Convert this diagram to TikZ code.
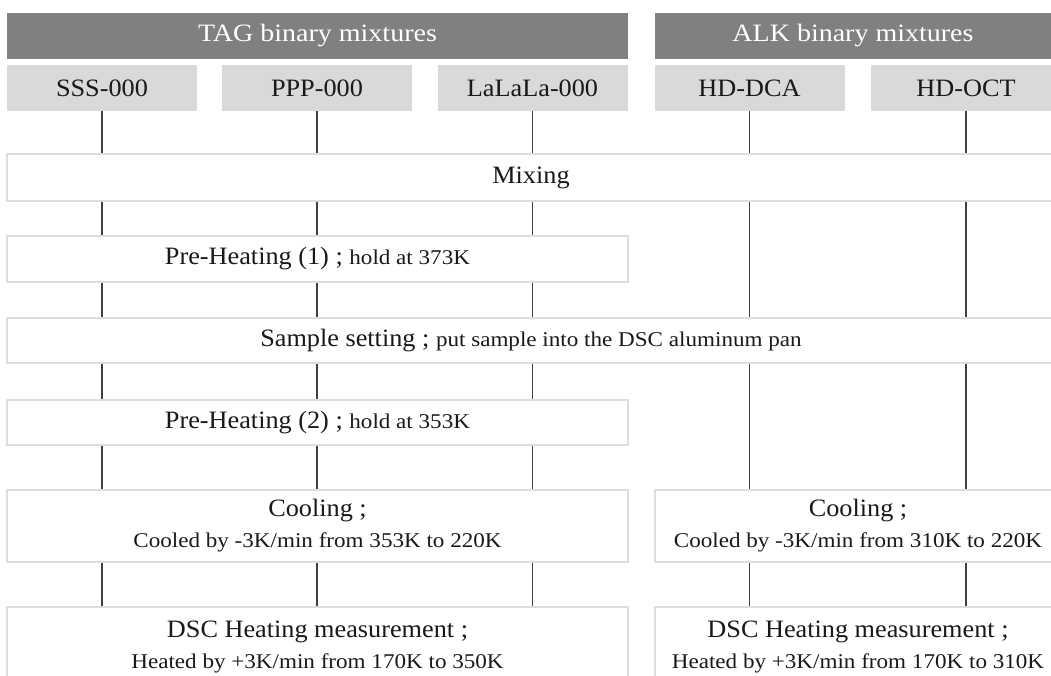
\documentclass[tikz,border=0pt]{standalone}
\usepackage{fontspec}
\setmainfont{Liberation Serif}
\newfontfamily\bigfam[FakeStretch=1.05]{Liberation Serif}
\newfontfamily\smfam[FakeStretch=1.1]{Liberation Serif}
\newfontfamily\headfam[FakeStretch=1.12]{Liberation Serif}
\newcommand{\bigtxt}{\bigfam\fontsize{25}{28}\selectfont}
\newcommand{\sm}{\smfam\fontsize{21}{24}\selectfont}
\newcommand{\headtxt}{\headfam\fontsize{25}{28}\selectfont}
\begin{document}
\begin{tikzpicture}[x=1pt,y=-1pt,
  dark/.style={fill=black!50,text=white,inner sep=0pt,minimum height=46pt,font=\headtxt},
  light/.style={fill=black!15,text=black!90,inner sep=0pt,minimum width=190pt,minimum height=46pt,font=\bigtxt},
  box/.style={fill=white,draw=black!13,line width=1.5pt,inner sep=0pt,align=center,text=black!90,font=\bigtxt},
  conn/.style={draw=black!75,line width=1.3pt}]
\useasboundingbox (0,0) rectangle (1051,675);
\clip (0,0) rectangle (1051,675);
\node[dark,minimum width=621pt] (htag) at (317.5,36) {TAG binary mixtures};
\node[dark,minimum width=396pt] (halk) at (853,36) {ALK binary mixtures};
\node[light] (sss) at (102,88) {SSS-000};
\node[light] (ppp) at (317,88) {PPP-000};
\node[light] (lal) at (532.5,88) {LaLaLa-000};
\node[light] (dca) at (749.5,88) {HD-DCA};
\node[light] (oct) at (966,88) {HD-OCT};
\node[box,minimum width=1048pt,minimum height=47pt] (mix) at (531,177.5) {Mixing};
\node[box,minimum width=621pt,minimum height=46pt] (pre1) at (317.5,259) {Pre-Heating (1) ; {\sm hold at 373K}};
\node[box,minimum width=1048pt,minimum height=45pt] (samp) at (531,340.5) {Sample setting ; {\sm put sample into the DSC aluminum pan}};
\node[box,minimum width=621pt,minimum height=45pt] (pre2) at (317.5,422.5) {Pre-Heating (2) ; {\sm hold at 353K}};
\node[box,minimum width=621pt,minimum height=72pt] (coolT) at (317.5,526) {Cooling ;\\[3pt]{\sm Cooled by -3K/min from 353K to 220K}};
\node[box,minimum width=406pt,minimum height=72pt] (coolA) at (858,526) {Cooling ;\\[3pt]{\sm Cooled by -3K/min from 310K to 220K}};
\node[box,minimum width=621pt,minimum height=80pt] (dscT) at (317.5,647) {DSC Heating measurement ;\\[3pt]{\sm Heated by +3K/min from 170K to 350K}};
\node[box,minimum width=406pt,minimum height=80pt] (dscA) at (858,647) {DSC Heating measurement ;\\[3pt]{\sm Heated by +3K/min from 170K to 310K}};
\foreach \n in {sss,ppp,lal}{
  \draw[conn] (\n.south) -- (\n.south |- mix.north);
  \draw[conn] (\n.south |- mix.south) -- (\n.south |- pre1.north);
  \draw[conn] (\n.south |- pre1.south) -- (\n.south |- samp.north);
  \draw[conn] (\n.south |- samp.south) -- (\n.south |- pre2.north);
  \draw[conn] (\n.south |- pre2.south) -- (\n.south |- coolT.north);
  \draw[conn] (\n.south |- coolT.south) -- (\n.south |- dscT.north);
}
\foreach \n in {dca,oct}{
  \draw[conn] (\n.south) -- (\n.south |- mix.north);
  \draw[conn] (\n.south |- mix.south) -- (\n.south |- samp.north);
  \draw[conn] (\n.south |- samp.south) -- (\n.south |- coolA.north);
  \draw[conn] (\n.south |- coolA.south) -- (\n.south |- dscA.north);
}
\end{tikzpicture}
\end{document}
